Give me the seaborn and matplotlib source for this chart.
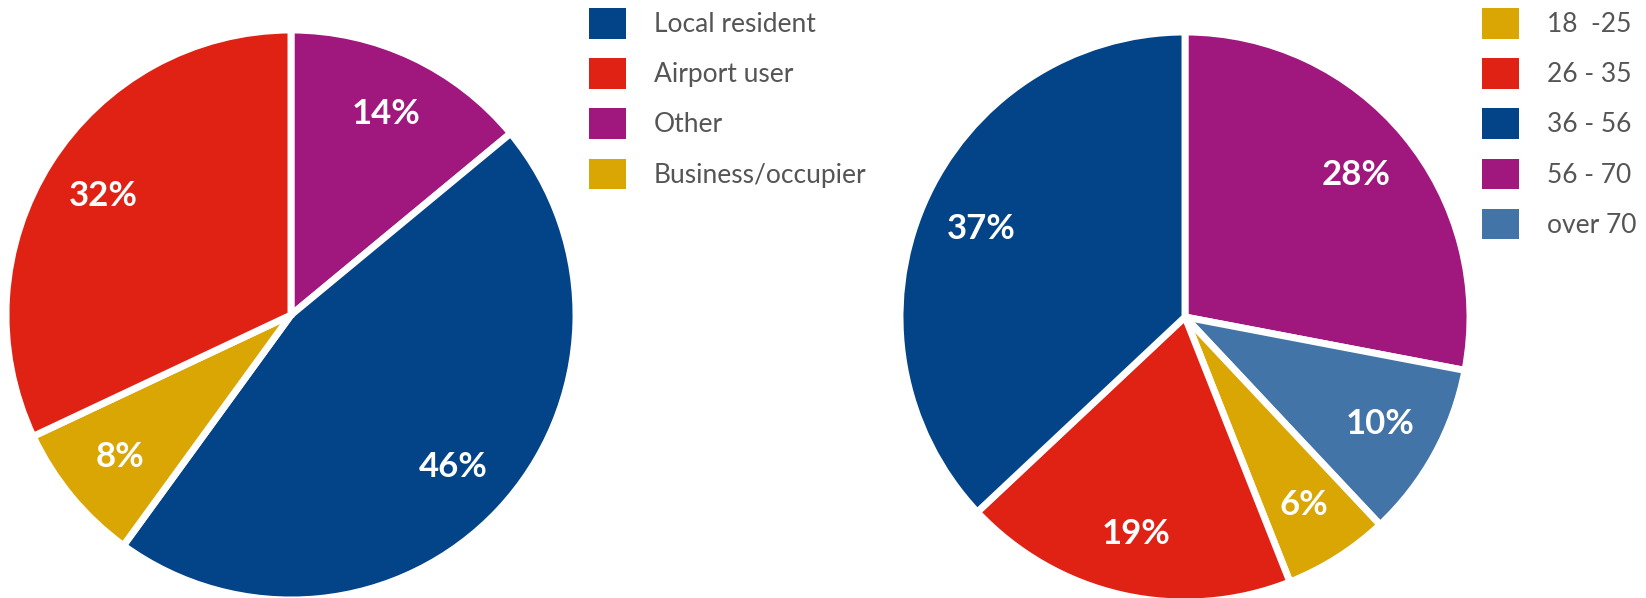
import matplotlib
matplotlib.use("Agg")
import matplotlib.pyplot as plt
import seaborn as sns
from matplotlib.patches import Patch

# =====================================
# DATA
# =====================================

# left pie: respondent type (drawn clockwise from 12 o'clock)
type_labels = ["Other", "Local resident", "Business/occupier", "Airport user"]
type_values = [14, 46, 8, 32]
type_legend_order = ["Local resident", "Airport user", "Other", "Business/occupier"]

# right pie: age group (drawn clockwise from 12 o'clock)
age_labels = ["56 - 70", "over 70", "18  -25", "26 - 35", "36 - 56"]
age_values = [28, 10, 6, 19, 37]
age_legend_order = ["18  -25", "26 - 35", "36 - 56", "56 - 70", "over 70"]

colors = {
    "Local resident": "#034488",
    "Airport user": "#E02214",
    "Other": "#A0187D",
    "Business/occupier": "#D9A604",
    "18  -25": "#D9A604",
    "26 - 35": "#E02214",
    "36 - 56": "#034488",
    "56 - 70": "#A0187D",
    "over 70": "#4274A8",
}

sns.set_theme(style="white")
plt.rcParams["font.family"] = ["Lato", "DejaVu Sans"]

fig = plt.figure(figsize=(16.46, 5.98), dpi=100)
W, H = 1646, 598


def pie_axes(cx, cy, r):
    # pixel centre/radius -> figure fraction axes
    return fig.add_axes([(cx - r) / W, (H - cy - r) / H, 2 * r / W, 2 * r / H])


def draw_pie(ax, labels, values):
    ax.pie(
        values,
        colors=[colors[l] for l in labels],
        startangle=90,
        counterclock=False,
        autopct=lambda p: f"{p:.0f}%",
        pctdistance=0.78,
        wedgeprops=dict(edgecolor="white", linewidth=5),
        textprops=dict(color="white", fontsize=25, fontweight="bold"),
    )
    ax.set_xlim(-1.0, 1.0)
    ax.set_ylim(-1.0, 1.0)
    ax.set_aspect("equal")
    ax.axis("off")


def draw_legend(order, x, y):
    handles = [Patch(facecolor=colors[l], edgecolor="none") for l in order]
    fig.legend(
        handles, order,
        loc="upper left",
        bbox_to_anchor=(x / W, 1 - y / H),
        frameon=False,
        fontsize=19,
        handlelength=1.41,
        handleheight=1.41,
        handletextpad=1.05,
        labelspacing=0.74,
        borderpad=0,
        borderaxespad=0,
        labelcolor="#555555",
    )


ax1 = pie_axes(291, 315, 285)
draw_pie(ax1, type_labels, type_values)

ax2 = pie_axes(1185, 317, 285)
draw_pie(ax2, age_labels, age_values)

draw_legend(type_legend_order, 589, 8)
draw_legend(age_legend_order, 1482, 8)

fig.savefig("out.png", dpi=100, facecolor="white")
